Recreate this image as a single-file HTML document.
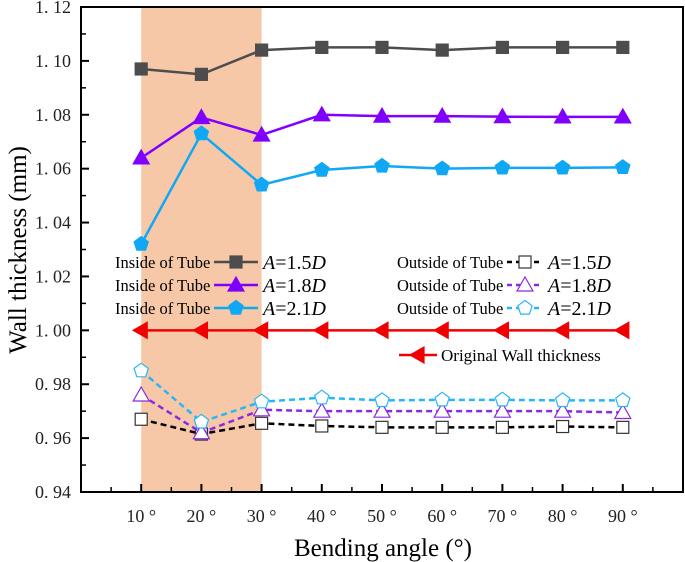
<!DOCTYPE html>
<html><head><meta charset="utf-8">
<style>
html,body{margin:0;padding:0;background:#fff;}
svg{display:block;font-family:"Liberation Serif",serif;}
</style></head>
<body>
<svg id="chart" width="685" height="562" viewBox="0 0 685 562" xmlns="http://www.w3.org/2000/svg"></svg>
<script>
const angles=[10,20,30,40,50,60,70,80,90];
const xTicks=['10 °','20 °','30 °','40 °','50 °','60 °','70 °','80 °','90 °'];
const yTicks=[0.94,0.96,0.98,1.00,1.02,1.04,1.06,1.08,1.10,1.12];
const yTickLabels=['0. 94','0. 96','0. 98','1. 00','1. 02','1. 04','1. 06','1. 08','1. 10','1. 12'];
const in15=[1.097,1.095,1.104,1.105,1.105,1.104,1.105,1.105,1.105];
const in18=[1.064,1.079,1.0725,1.080,1.0795,1.0795,1.0793,1.0792,1.0792];
const in21=[1.032,1.073,1.054,1.0595,1.061,1.060,1.0603,1.0603,1.0605];
const out15=[0.967,0.9615,0.9655,0.9645,0.964,0.964,0.964,0.9643,0.964];
const out18=[0.976,0.962,0.9705,0.970,0.970,0.970,0.970,0.970,0.9695];
const out21=[0.985,0.966,0.9735,0.975,0.974,0.9742,0.9742,0.974,0.974];
const original=[1,1,1,1,1,1,1,1,1];
const shadeRange=[10,30];

const NS='http://www.w3.org/2000/svg';
const svg=document.getElementById('chart');
const L=81,R=683,T=7,B=492;
const X=v=>L+(v-0)*(R-L)/100;
const Y=v=>B-(v-0.94)*(B-T)/0.18;
function mk(tag,attrs,parent){const e=document.createElementNS(NS,tag);for(const k in attrs)e.setAttribute(k,attrs[k]);(parent||svg).appendChild(e);return e;}

const sh=mk('rect',{x:X(shadeRange[0]),y:T,width:X(shadeRange[1])-X(shadeRange[0]),height:B-T,fill:'#f6c8a8'});



const fr=mk('rect',{x:L,y:T,width:R-L,height:B-T,fill:'none',stroke:'#000','stroke-width':2});



yTicks.forEach((v,i)=>{
  mk('line',{x1:L,x2:L+8,y1:Y(v),y2:Y(v),stroke:'#000','stroke-width':2});
  if(i<yTicks.length-1) mk('line',{x1:L,x2:L+5,y1:Y(v+0.01),y2:Y(v+0.01),stroke:'#000','stroke-width':1.5});
  const t=mk('text',{x:L-10,y:Y(v)+6,'text-anchor':'end','font-size':18,fill:'#222'});
  t.textContent=yTickLabels[i];
  
  
});
angles.forEach((a,i)=>{
  mk('line',{x1:X(a),x2:X(a),y1:B,y2:B-8,stroke:'#000','stroke-width':2});
  const t=mk('text',{x:X(a),y:B+30,'text-anchor':'middle','font-size':18,fill:'#222'});
  t.textContent=xTicks[i];
  
  
});
for(let m=5;m<100;m+=10) mk('line',{x1:X(m),x2:X(m),y1:B,y2:B-5,stroke:'#000','stroke-width':1.5});

const xt=mk('text',{x:383,y:556,'text-anchor':'middle','font-size':25,fill:'#000'});
xt.textContent='Bending angle (°)';


const yt=mk('text',{x:0,y:0,'text-anchor':'middle','font-size':25,fill:'#000',transform:'translate(26,250) rotate(-90)'});
yt.textContent='Wall thickness (mm)';



function marker(shape,cx,cy,color,filled,g){
  const f=filled?color:'#fff', st=color, sw=1.2;
  if(shape==='sq') return mk('rect',{x:cx-6,y:cy-6,width:12,height:12,fill:f,stroke:filled?color:'#333','stroke-width':sw},g);
  if(shape==='tri') return mk('polygon',{points:`${cx},${cy-8} ${cx+8},${cy+6} ${cx-8},${cy+6}`,fill:f,stroke:st,'stroke-width':sw},g);
  if(shape==='pent'){let p=[];for(let k=0;k<5;k++){const a=-Math.PI/2+k*2*Math.PI/5;p.push((cx+7.5*Math.cos(a)).toFixed(1)+','+(cy+7.5*Math.sin(a)).toFixed(1));}return mk('polygon',{points:p.join(' '),fill:f,stroke:st,'stroke-width':sw},g);}
  if(shape==='left') return mk('polygon',{points:`${cx-8},${cy} ${cx+6},${cy-8} ${cx+6},${cy+8}`,fill:f,stroke:st,'stroke-width':sw},g);
}
function series(name,vals,color,shape,filled,dash){
  const g=mk('g',{});
  
  
  const pts=vals.map((v,i)=>X(angles[i])+','+Y(v)).join(' ');
  const a={points:pts,fill:'none',stroke:color,'stroke-width':2.5};
  if(dash)a['stroke-dasharray']='6,4';
  mk('polyline',a,g);
  vals.forEach((v,i)=>{const m=marker(shape,X(angles[i]),Y(v),color,filled,g);
    
    });
}
series('original-thickness-line',original,'#f00000','left',true,false);
series('inside-1-5d-line',in15,'#4d4d4d','sq',true,false);
series('inside-1-8d-line',in18,'#8000ff','tri',true,false);
series('inside-2-1d-line',in21,'#10a8f4','pent',true,false);
series('outside-1-5d-line',out15,'#000','sq',false,true);
series('outside-1-8d-line',out18,'#8a2be2','tri',false,true);
series('outside-2-1d-line',out21,'#29b6f6','pent',false,true);

function legendEntry(prefix,x0,fs,lx1,lx2,y,lblx,label,color,shape,filled,dash,name){
  const g=mk('g',{});
  
  
  const t=mk('text',{x:x0,y:y+6,'font-size':fs,fill:'#000'},g);t.textContent=prefix;
  const a={x1:lx1,x2:lx2,y1:y,y2:y,stroke:color,'stroke-width':2.5};
  if(dash)a['stroke-dasharray']='5,4';
  mk('line',a,g);
  marker(shape,(lx1+lx2)/2,y,color,filled,g);
  const l=mk('text',{x:lblx,y:y+7,'font-size':20,fill:'#000'},g);
  l.innerHTML='<tspan font-style="italic">A</tspan>='+label+'<tspan font-style="italic">D</tspan>';
}
legendEntry('Inside of Tube',115,16.5,214,258,262,263,'1.5','#4d4d4d','sq',true,false,'legend-inside-1-5d');
legendEntry('Inside of Tube',115,16.5,214,258,285,263,'1.8','#8000ff','tri',true,false,'legend-inside-1-8d');
legendEntry('Inside of Tube',115,16.5,214,258,308,263,'2.1','#10a8f4','pent',true,false,'legend-inside-2-1d');
legendEntry('Outside of Tube',397,16.5,507,543,262,548,'1.5','#000','sq',false,true,'legend-outside-1-5d');
legendEntry('Outside of Tube',397,16.5,507,543,285,548,'1.8','#8a2be2','tri',false,true,'legend-outside-1-8d');
legendEntry('Outside of Tube',397,16.5,507,543,308,548,'2.1','#29b6f6','pent',false,true,'legend-outside-2-1d');
const og=mk('g',{});


mk('line',{x1:399,x2:437,y1:355,y2:355,stroke:'#f00000','stroke-width':2.5},og);
marker('left',418,355,'#f00000',true,og);
const ot=mk('text',{x:441,y:361,'font-size':17,fill:'#000'},og);ot.textContent='Original Wall thickness';
</script>
</body></html>
